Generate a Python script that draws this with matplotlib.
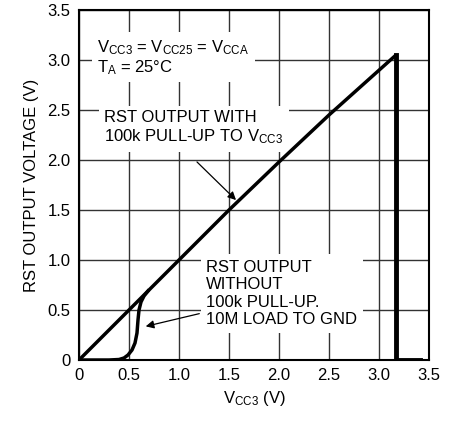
import matplotlib
matplotlib.use('Agg')
import matplotlib.pyplot as plt

plt.rcParams['font.family'] = ['Liberation Sans Narrow', 'Liberation Sans', 'DejaVu Sans']
plt.rcParams['mathtext.fontset'] = 'custom'
plt.rcParams['mathtext.rm'] = 'Liberation Sans'
plt.rcParams['mathtext.it'] = 'Liberation Sans'

# RST output with 100k pull-up to VCC3
vcc_pullup = [0.0, 0.5, 1.0, 1.5, 2.0, 2.5, 3.17, 3.17, 3.41]
rst_pullup = [0.0, 0.5, 1.0, 1.5, 1.98, 2.45, 3.05, 0.0, 0.0]

# RST output without pull-up, 10M load to GND
vcc_load = [0.0, 0.30, 0.40, 0.45, 0.49, 0.53, 0.56, 0.58, 0.59, 0.60, 0.62, 0.65, 0.69]
rst_load = [0.0, 0.0, 0.005, 0.02, 0.05, 0.10, 0.17, 0.27, 0.40, 0.50, 0.58, 0.64, 0.69]

xticks = [0, 0.5, 1.0, 1.5, 2.0, 2.5, 3.0, 3.5]
xlabels = ['0', '0.5', '1.0', '1.5', '2.0', '2.5', '3.0', '3.5']
yticks = [0, 0.5, 1.0, 1.5, 2.0, 2.5, 3.0, 3.5]
ylabels = ['0', '0.5', '1.0', '1.5', '2.0', '2.5', '3.0', '3.5']

fig = plt.figure(figsize=(4.54, 4.23), dpi=100)
ax = fig.add_axes([79 / 454, 63 / 423, 350 / 454, 350 / 423])

ax.plot(vcc_pullup[:7], rst_pullup[:7], color='black', lw=2.5, zorder=4, solid_capstyle='butt')
ax.plot(vcc_pullup[6:], rst_pullup[6:], color='black', lw=3.5, zorder=4, solid_joinstyle='miter')
ax.plot(vcc_load, rst_load, color='black', lw=2.5, zorder=4)

ax.set_xlim(0, 3.5)
ax.set_ylim(0, 3.5)
ax.set_xticks(xticks)
ax.set_xticklabels(xlabels)
ax.set_yticks(yticks)
ax.set_yticklabels(ylabels)
ax.tick_params(length=0, labelsize=12, pad=6)
ax.grid(True, color='#333333', lw=1.0, zorder=0)
ax.set_axisbelow(True)
for s in ax.spines.values():
    s.set_linewidth(1.5)

ax.set_xlabel(r'V$_{\mathrm{CC3}}$ (V)', fontsize=12, labelpad=4)
ax.set_ylabel('RST OUTPUT VOLTAGE (V)', fontsize=12, labelpad=6)

box = dict(facecolor='white', edgecolor='none', pad=4)
ax.text(0.18, 3.22, 'V$_{\\mathrm{CC3}}$ = V$_{\\mathrm{CC25}}$ = V$_{\\mathrm{CCA}}$\nT$_{\\mathrm{A}}$ = 25°C',
        fontsize=12, va='top', ha='left', bbox=box, zorder=3, linespacing=1.1)
ax.text(0.25, 2.5, 'RST OUTPUT WITH\n100k PULL-UP TO V$_{\\mathrm{CC3}}$',
        fontsize=12, va='top', ha='left', bbox=box, zorder=3, linespacing=1.2)
ax.text(1.27, 1.0, 'RST OUTPUT\nWITHOUT\n100k PULL-UP.\n10M LOAD TO GND',
        fontsize=12, va='top', ha='left', bbox=box, zorder=3, linespacing=1.2)

ax.annotate('', xy=(1.59, 1.58), xytext=(1.16, 2.0),
            arrowprops=dict(arrowstyle='-|>', color='black', lw=0.9, mutation_scale=12), zorder=5)
ax.annotate('', xy=(0.64, 0.33), xytext=(1.23, 0.47),
            arrowprops=dict(arrowstyle='-|>', color='black', lw=0.9, mutation_scale=12), zorder=5)

fig.savefig('out.png', dpi=100)
